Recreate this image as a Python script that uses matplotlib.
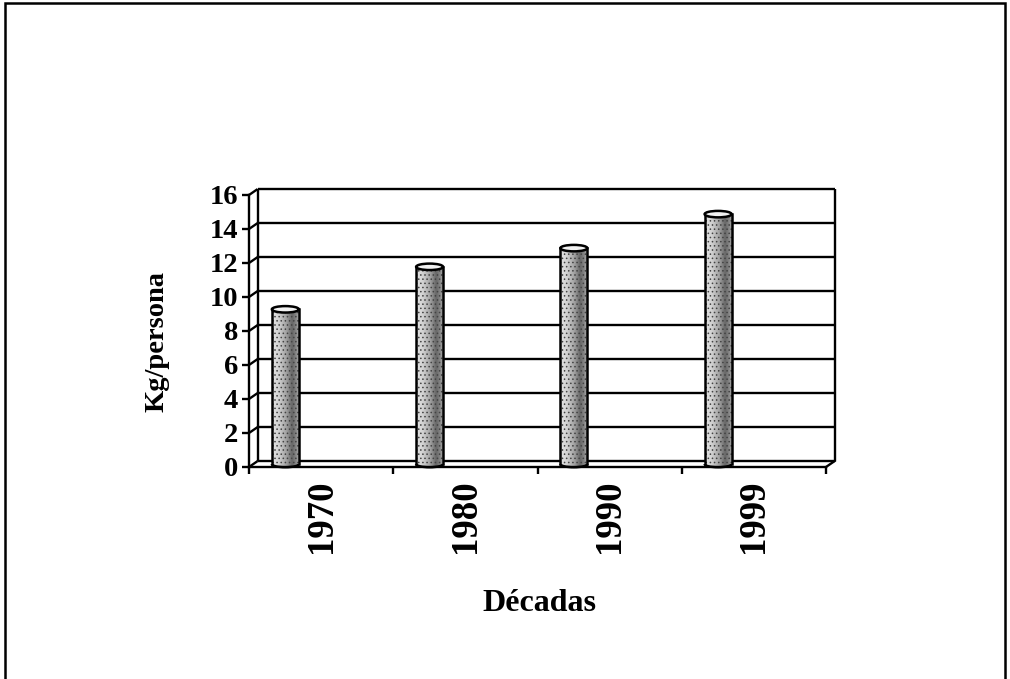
import matplotlib.pyplot as plt
import numpy as np
from matplotlib.patches import Arc, Ellipse, Rectangle


DECADES = ["1970", "1980", "1990", "1999"]
KG_PER_PERSON = [9.1, 11.6, 12.7, 14.7]
Y_TICKS = [0, 2, 4, 6, 8, 10, 12, 14, 16]

FONT = ["Liberation Serif", "DejaVu Serif"]
INK = "black"

# fake 3D: back wall is shifted right/up by this much (data units)
DEPTH_X = 0.06
DEPTH_Y = 0.35
BAR_WIDTH = 0.187
BAR_OFFSET = 0.222
CAP_HEIGHT = 0.38


def draw_walls(ax):
    n = len(DECADES)
    kw = dict(color=INK, lw=1.7, clip_on=False, zorder=1, solid_capstyle="butt")
    for y in Y_TICKS:
        # left wall diagonal + back wall gridline
        ax.plot([0, DEPTH_X], [y, y + DEPTH_Y], **kw)
        ax.plot([DEPTH_X, n + DEPTH_X], [y + DEPTH_Y, y + DEPTH_Y], **kw)
    top = Y_TICKS[-1]
    ax.plot([DEPTH_X, DEPTH_X], [DEPTH_Y, top + DEPTH_Y], **kw)
    ax.plot([n + DEPTH_X, n + DEPTH_X], [DEPTH_Y, top + DEPTH_Y], **kw)
    # floor right edge
    ax.plot([n, n + DEPTH_X], [0, DEPTH_Y], color=INK, lw=1.7, clip_on=False, zorder=5)


def draw_cylinder(ax, x, value):
    left = x - BAR_WIDTH / 2
    right = x + BAR_WIDTH / 2
    base = DEPTH_Y / 2
    top = value + DEPTH_Y / 2

    # horizontal shading across the cylinder body
    stops = np.array([0.0, 0.25, 0.55, 0.75, 0.9, 1.0])
    shade = np.array([0.9, 0.82, 0.62, 0.4, 0.52, 0.68])
    xs = np.linspace(0, 1, 64)
    grad = np.interp(xs, stops, shade)[np.newaxis, :]
    img = ax.imshow(grad, cmap="gray", vmin=0, vmax=1, aspect="auto",
                    extent=[left, right, base - CAP_HEIGHT / 2, top],
                    interpolation="bicubic", zorder=3)
    clip = Rectangle((left, base - CAP_HEIGHT / 2), BAR_WIDTH, top - base + CAP_HEIGHT / 2,
                     transform=ax.transData)
    img.set_clip_path(clip)
    img.set_clip_on(True)
    # dotted overlay for the printed stipple look
    ax.add_patch(Rectangle((left, base), BAR_WIDTH, top - base, facecolor="none",
                           edgecolor="#444444", hatch="....", lw=0, zorder=3.5,
                           clip_on=False))

    ax.plot([left, left], [base, top], color=INK, lw=1.8, zorder=4, clip_on=False)
    ax.plot([right, right], [base, top], color=INK, lw=1.8, zorder=4, clip_on=False)
    ax.add_patch(Arc((x, base), BAR_WIDTH, CAP_HEIGHT, theta1=180, theta2=360,
                     color=INK, lw=1.8, zorder=4, clip_on=False))
    ax.add_patch(Ellipse((x, top), BAR_WIDTH, CAP_HEIGHT, facecolor="#f2f2f2",
                         edgecolor=INK, lw=1.8, zorder=4, clip_on=False))


def main():
    plt.rcParams["hatch.linewidth"] = 0.6
    fig = plt.figure(figsize=(10.10, 6.79), dpi=100)
    ax = fig.add_axes([249 / 1010, 212 / 679, 577 / 1010, 272 / 679])

    draw_walls(ax)
    for i, value in enumerate(KG_PER_PERSON):
        draw_cylinder(ax, i + BAR_OFFSET + DEPTH_X / 2, value)

    n = len(DECADES)
    ax.set_xlim(0, n)
    ax.set_ylim(0, Y_TICKS[-1])
    ax.set_facecolor("none")
    for side in ["top", "right"]:
        ax.spines[side].set_visible(False)
    for side in ["left", "bottom"]:
        ax.spines[side].set_linewidth(1.7)
        ax.spines[side].set_zorder(5)

    ax.set_yticks(Y_TICKS)
    ax.set_yticklabels([str(t) for t in Y_TICKS], fontfamily=FONT, fontweight="bold", fontsize=20.5)
    ax.tick_params(axis="y", direction="out", length=5, width=1.7, pad=3)

    ax.set_xticks(range(n + 1))
    ax.set_xticklabels([])
    ax.set_xticks([i + 0.5 for i in range(n)], minor=True)
    ax.set_xticklabels(DECADES, minor=True, rotation=90, fontfamily=FONT,
                       fontweight="bold", fontsize=26.5)
    ax.tick_params(axis="x", which="major", direction="out", length=5, width=1.7)
    ax.tick_params(axis="x", which="minor", length=0, pad=9)

    ax.set_ylabel("Kg/persona", fontfamily=FONT, fontweight="bold", fontsize=20.5)
    ax.yaxis.set_label_coords(-0.137, 0.463)
    ax.set_xlabel("Décadas", fontfamily=FONT, fontweight="bold", fontsize=23)
    ax.xaxis.set_label_coords(0.504, -0.448)

    # frame around the whole chart area
    fig.patches.append(Rectangle((5 / 1010, -0.05), 1000 / 1010, 1.05 - 3 / 679,
                                 transform=fig.transFigure, fill=False,
                                 edgecolor=INK, lw=1.8, clip_on=False))

    fig.savefig("out.png", dpi=100)
    plt.close(fig)


if __name__ == "__main__":
    main()
